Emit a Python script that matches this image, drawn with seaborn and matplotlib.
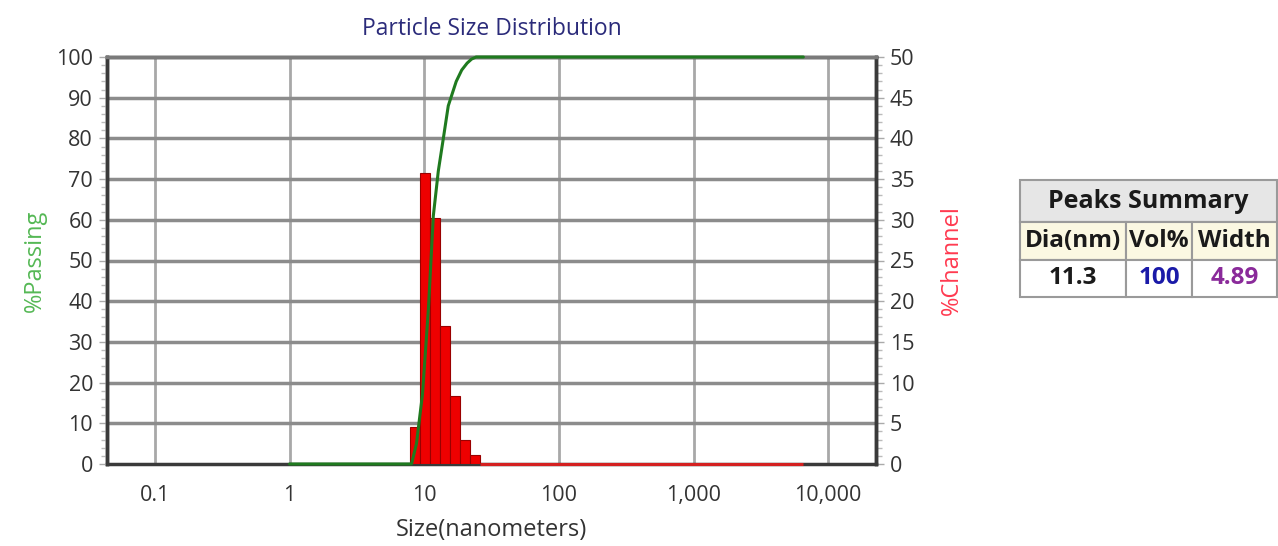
import numpy as np
import matplotlib.pyplot as plt
from matplotlib import ticker
from matplotlib.patches import Rectangle
import seaborn as sns
import pandas as pd

# channel edges (nm) and %channel per channel
channel_edges = [7.78, 9.25, 11.00, 13.08, 15.56, 18.50, 22.00, 26.16]
channel_pct = [4.5, 35.8, 30.2, 17.0, 8.4, 3.0, 1.1]
channel_max = 6540  # end of the measured range (empty channels)

# cumulative %passing
passing_size = [1.0, 8.05, 8.76, 9.70, 10.74, 11.69, 12.73, 13.87, 15.09, 17.29, 19.0, 20.84, 22.5, 24.30, 6540]
passing_pct = [0, 0, 5, 17, 38, 61, 72, 80, 88, 94, 96.8, 98.5, 99.5, 100, 100]

# peaks summary table
peak_dia = "11.3"
peak_vol = "100"
peak_width = "4.89"

x_ticks = [0.1, 1, 10, 100, 1000, 10000]
x_ticklabels = ["0.1", "1", "10", "100", "1,000", "10,000"]

sns.set_style("white")
plt.rcParams["font.family"] = ["Open Sans", "DejaVu Sans"]

fig = plt.figure(figsize=(12.78, 5.46), dpi=100)
ax = fig.add_axes([107 / 1278, 1 - 464 / 546, (876 - 107) / 1278, (464 - 57) / 546])
ax2 = ax.twinx()

# bars (right axis, %Channel)
centers = np.sqrt(np.array(channel_edges[:-1]) * np.array(channel_edges[1:]))
hist_df = pd.DataFrame({"size": centers, "pct": channel_pct})
log_edges = [float(v) for v in np.log10(channel_edges)]
sns.histplot(data=hist_df, x="size", weights="pct", bins=log_edges,
             log_scale=True, stat="count", color="#ee0000", edgecolor="#9a0000",
             linewidth=0.8, alpha=1, ax=ax, zorder=3)

# cumulative line (left axis, %Passing) drawn on top
line_df = pd.DataFrame({"size": passing_size, "pct": passing_pct})
sns.lineplot(data=line_df, x="size", y="pct", color="#1f7a1f", lw=2.2, ax=ax2,
             zorder=5, clip_on=False)
# empty channels along the floor
ax2.hlines(0, channel_edges[-1], channel_max, color="#d42020", lw=2.2, zorder=4,
           clip_on=False)

ax.set_xscale("log")
ax.set_xlim(0.0441, 22650)
ax.set_ylim(0, 50)
ax2.set_ylim(0, 100)

# right axis = %Channel, left axis = %Passing
ax.yaxis.tick_right()
ax.yaxis.set_label_position("right")
ax2.yaxis.tick_left()
ax2.yaxis.set_label_position("left")
ax.set_yticks(np.arange(0, 51, 5))
ax.yaxis.set_minor_locator(ticker.MultipleLocator(1))
ax2.set_yticks(np.arange(0, 101, 10))
ax2.yaxis.set_minor_locator(ticker.MultipleLocator(2))

ax.set_xticks(x_ticks)
ax.set_xticklabels(x_ticklabels)
ax.xaxis.set_minor_locator(ticker.LogLocator(base=10, subs=np.arange(2, 10)))
ax.xaxis.set_minor_formatter(ticker.NullFormatter())

lab_col = "#333333"
for a in (ax, ax2):
    a.tick_params(axis="both", which="major", direction="out", length=6, width=1,
                  color="#aaaaaa", labelsize=15.5, labelcolor=lab_col, pad=4)
    a.tick_params(axis="both", which="minor", direction="out", length=4, width=1,
                  color="#bbbbbb")
ax.tick_params(axis="x", which="major", pad=9)
ax.tick_params(axis="y", which="both", left=False, right=True)
ax2.tick_params(axis="y", which="both", left=True, right=False)
ax2.tick_params(axis="x", which="both", bottom=False, labelbottom=False)

# grid
ax.set_axisbelow(True)
ax.grid(axis="x", which="major", color="#a8a8a8", lw=2, zorder=0)
for v in ax2.get_yticks()[1:-1]:
    ax.axhline(v / 2, color="#8c8c8c", lw=2.5, zorder=1)

for a in (ax, ax2):
    for s in a.spines.values():
        s.set_color("#3a3a3a")
        s.set_linewidth(2.5)
ax2.spines["top"].set_color("#7a7a7a")
ax2.spines["bottom"].set_visible(False)

ax.set_xlabel("Size(nanometers)", fontsize=17, color=lab_col, labelpad=9)
ax.set_ylabel("%Channel", fontsize=17, color="#ff3a50", labelpad=18, rotation=90)
ax2.set_ylabel("%Passing", fontsize=17, color="#55b855", labelpad=7)
ax.set_title("Particle Size Distribution", fontsize=16.5, color="#2b2b7a", pad=16)

# peaks summary table, drawn in figure pixel coordinates
tab = fig.add_axes([0, 0, 1, 1])
tab.set_xlim(0, 1278)
tab.set_ylim(546, 0)
tab.axis("off")
border = "#9a9a9a"
tab.add_patch(Rectangle((1020, 180), 257, 42, facecolor="#e6e6e6", edgecolor=border, lw=1.5))
cols = [(1020, 106), (1126, 66), (1192, 85)]
headers = ["Dia(nm)", "Vol%", "Width"]
values = [peak_dia, peak_vol, peak_width]
val_cols = ["#1a1a1a", "#1a1aa8", "#8a2a9a"]
for (x0, w), h, v, c in zip(cols, headers, values, val_cols):
    tab.add_patch(Rectangle((x0, 222), w, 38, facecolor="#fbf8e2", edgecolor=border, lw=1.5))
    tab.add_patch(Rectangle((x0, 260), w, 37, facecolor="white", edgecolor=border, lw=1.5))
    tab.text(x0 + w / 2, 241, h, ha="center", va="center", fontsize=17.5,
             fontweight="bold", color="#1a1a1a")
    tab.text(x0 + w / 2, 278, v, ha="center", va="center", fontsize=17.5,
             fontweight="bold", color=c)
tab.text(1148, 202, "Peaks Summary", ha="center", va="center", fontsize=18,
         fontweight="bold", color="#1a1a1a")

fig.savefig("out.png", dpi=100)
